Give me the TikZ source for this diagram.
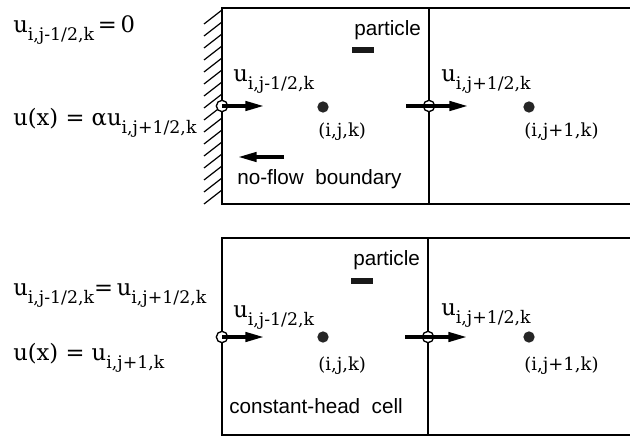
\documentclass[tikz,border=0pt]{standalone}
\usepackage{amsmath,amssymb}
\usepackage{fontspec}
\newfontfamily\lblfont{Liberation Sans}
\newfontfamily\eqfont{DejaVu Serif}
\usepackage{tikz}
\usetikzlibrary{arrows.meta,positioning}

\tikzset{
  cellline/.style={line width=1.3pt},
  hatchline/.style={line width=0.9pt},
  facept/.style={circle,draw,fill=white,line width=1pt,minimum size=8.5pt,inner sep=0pt},
  cellpt/.style={circle,fill=black!85,minimum size=8.5pt,inner sep=0pt},
  flowarrow/.style={line width=2.6pt,-{Triangle[length=14pt,width=7pt]}},
  partbox/.style={fill=black!90,minimum width=16pt,minimum height=5pt,inner sep=0pt},
  eqn/.style={anchor=base west,inner sep=0.75pt,font=\eqfont\fontsize{17}{19}\selectfont},
  idx/.style={anchor=base west,inner sep=0.75pt,font=\eqfont\fontsize{13.5}{15}\selectfont},
  txt/.style={anchor=base west,inner sep=0.75pt,font=\lblfont\fontsize{15.5}{17}\selectfont},
}
\newcommand{\cellsub}[1]{\raisebox{-6pt}{\fontsize{13}{14}\selectfont #1}}
\newcommand{\uv}[1]{u\cellsub{#1}}

\begin{document}
\begin{tikzpicture}[x=0.75pt,y=0.75pt,yscale=-1,xscale=1]
\path[use as bounding box] (0,0) rectangle (630,438);

%Shape: no-flow cell pair
\draw[cellline] (630,8) -- (222,8) -- (222,204) -- (630,204);
\draw[cellline] (429,8) -- (429,204);
%Hatching: impermeable wall
\foreach \y in {10,22,...,190}
  \draw[hatchline] (222,\y) -- ++(-18,14);

% Text Node
\node[eqn] (bcA) at (12,33) {\uv{i,j-1/2,k}\,=\,0};
\node[eqn] (uxA) at (12,126) {u(x) = α\uv{i,j+1/2,k}};

%Faces and cell centres
\node[facept] (fA1) at (222,106) {};
\coordinate (fA1tip) at (264,106);
\draw[flowarrow] (fA1.center) -- (fA1tip);
\node[eqn] (uA1) at (232,82) {\uv{i,j-1/2,k}};

\node[facept] (fA2) at (429,106) {};
\coordinate (fA2tail) at (406,106);
\coordinate (fA2tip) at (468,106);
\draw[flowarrow] (fA2tail) -- (fA2tip);
\node[eqn] (uA2) at (440,82) {\uv{i,j+1/2,k}};

\node[cellpt] (cA1) at (323,107) {};
\node[idx] (cA1lbl) at (317,137) {(i,j,k)};
\node[cellpt] (cA2) at (529,107) {};
\node[idx] (cA2lbl) at (523,137) {(i,j+1,k)};

%Particle
\node[txt] (pA) at (353,36) {particle};
\node[partbox] (pAbox) at (363,50) {};

%No-flow boundary
\coordinate (nfA) at (284,157);
\coordinate (nfB) at (238,157);
\draw[flowarrow] (nfA) -- (nfB);
\node[txt] (nfLbl) at (236,185) {no-flow\ \ boundary};

%Shape: constant-head cell pair
\draw[cellline] (630,238) -- (222,238) -- (222,435) -- (630,435);
\draw[cellline] (428,238) -- (428,435);

% Text Node
\node[eqn] (bcB) at (12,295) {\uv{i,j-1/2,k}=\,\uv{i,j+1/2,k}};
\node[eqn] (uxB) at (12,360) {u(x) = \uv{i,j+1,k}};

%Faces and cell centres
\node[facept] (fB1) at (222,337) {};
\coordinate (fB1tip) at (264,337);
\draw[flowarrow] (fB1.center) -- (fB1tip);
\node[eqn] (uB1) at (232,317) {\uv{i,j-1/2,k}};

\node[facept] (fB2) at (428,337) {};
\coordinate (fB2tail) at (405,337);
\coordinate (fB2tip) at (467,337);
\draw[flowarrow] (fB2tail) -- (fB2tip);
\node[eqn] (uB2) at (440,315) {\uv{i,j+1/2,k}};

\node[cellpt] (cB1) at (323,337) {};
\node[idx] (cB1lbl) at (317,370) {(i,j,k)};
\node[cellpt] (cB2) at (529,337) {};
\node[idx] (cB2lbl) at (523,370) {(i,j+1,k)};

%Particle
\node[txt] (pB) at (352,265) {particle};
\node[partbox] (pBbox) at (362,281) {};

%Constant-head cell
\node[txt] (chLbl) at (228,413) {constant-head\ \ cell};
\end{tikzpicture}
\end{document}
